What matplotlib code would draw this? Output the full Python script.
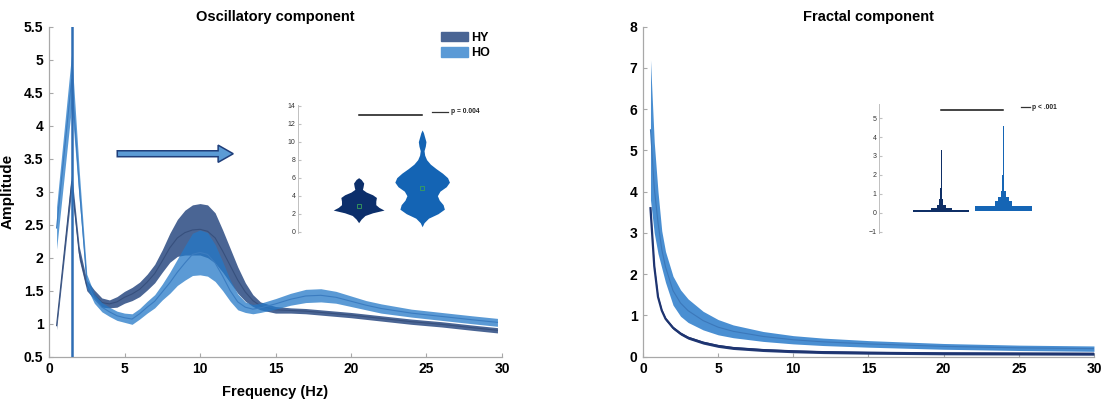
"""
Oscillatory and fractal spectral components, HY vs HO, with violin insets.
"""

import matplotlib.pyplot as plt
from matplotlib.patches import FancyArrow, Patch
import numpy as np

plt.rcParams['font.family'] = ['Liberation Sans', 'DejaVu Sans']

# oscillatory component (mean and half band width)
FREQ_OSC_HY = [0.5, 1.5, 2.0, 2.5, 3.0, 3.5, 4.0, 4.5, 5.0, 5.5, 6.0, 6.5, 7.0, 7.5,
               8.0, 8.5, 9.0, 9.5, 10.0, 10.5, 11.0, 11.5, 12.0, 12.5, 13.0, 13.5,
               14.0, 15.0, 16.0, 17.0, 18.0, 19.0, 20.0, 22.0, 24.0, 26.0, 28.0, 29.7]
HY_OSC = [0.97, 3.15, 2.07, 1.58, 1.44, 1.32, 1.30, 1.33, 1.40, 1.45, 1.52, 1.63, 1.76, 1.95,
          2.15, 2.30, 2.38, 2.42, 2.43, 2.40, 2.30, 2.10, 1.88, 1.66, 1.48, 1.35,
          1.27, 1.21, 1.20, 1.19, 1.17, 1.15, 1.13, 1.08, 1.03, 0.99, 0.94, 0.90]
HY_OSC_ERR = [0.06, 0.13, 0.10, 0.08, 0.07, 0.07, 0.06, 0.08, 0.09, 0.10, 0.11, 0.12, 0.14, 0.17,
              0.22, 0.28, 0.34, 0.38, 0.39, 0.40, 0.38, 0.32, 0.26, 0.20, 0.14, 0.09,
              0.06, 0.05, 0.04, 0.04, 0.04, 0.04, 0.04, 0.04, 0.04, 0.04, 0.04, 0.04]

FREQ_OSC_HO = [0.5, 1.5, 2.0, 2.5, 3.0, 3.5, 4.0, 4.5, 5.0, 5.5, 6.0, 6.5, 7.0, 7.5,
               8.0, 8.5, 9.0, 9.5, 10.0, 10.5, 11.0, 11.5, 12.0, 12.5, 13.0, 13.5,
               14.0, 15.0, 16.0, 17.0, 18.0, 19.0, 20.0, 21.0, 22.0, 24.0, 26.0, 28.0, 29.7]
HO_OSC = [2.45, 4.70, 3.10, 1.65, 1.38, 1.25, 1.18, 1.12, 1.09, 1.07, 1.15, 1.25, 1.34, 1.48,
          1.62, 1.78, 1.92, 2.05, 2.08, 2.05, 1.92, 1.72, 1.50, 1.33, 1.25, 1.22,
          1.24, 1.30, 1.37, 1.42, 1.43, 1.40, 1.34, 1.28, 1.23, 1.16, 1.11, 1.06, 1.02]
HO_OSC_ERR = [0.32, 0.40, 0.22, 0.10, 0.07, 0.07, 0.07, 0.07, 0.07, 0.08, 0.08, 0.09, 0.10, 0.12,
              0.16, 0.20, 0.26, 0.32, 0.34, 0.33, 0.28, 0.22, 0.16, 0.12, 0.08, 0.07,
              0.07, 0.08, 0.09, 0.10, 0.10, 0.09, 0.08, 0.07, 0.07, 0.06, 0.06, 0.06, 0.06]

PEAK_FREQ = 1.55

# fractal component
FREQ_FRAC = [0.5, 0.75, 1.0, 1.25, 1.5, 2.0, 2.5, 3.0, 4.0, 5.0, 6.0, 8.0, 10.0, 12.0,
             15.0, 20.0, 25.0, 30.0]
HY_FRAC = [3.60, 2.20, 1.45, 1.12, 0.92, 0.70, 0.56, 0.46, 0.34, 0.26, 0.21, 0.16, 0.13, 0.11,
           0.095, 0.08, 0.075, 0.07]
HO_FRAC_UP = [7.20, 5.20, 4.00, 3.05, 2.55, 1.95, 1.62, 1.40, 1.10, 0.90, 0.77, 0.61, 0.51, 0.45,
              0.39, 0.32, 0.28, 0.26]
HO_FRAC_LO = [3.80, 3.00, 2.50, 2.15, 1.80, 1.25, 0.98, 0.83, 0.65, 0.53, 0.46, 0.37, 0.31, 0.27,
              0.23, 0.18, 0.15, 0.13]

# inset 1: violin outlines (level, half width)
VIO_HY_Y = [1.0, 1.4, 1.8, 2.1, 2.4, 2.7, 3.0, 3.4, 3.8, 4.1, 4.4, 4.7, 5.0, 5.4, 5.8, 6.0]
VIO_HY_W = [0.0, 0.04, 0.10, 0.22, 0.40, 0.32, 0.27, 0.27, 0.28, 0.22, 0.12, 0.06, 0.07, 0.08, 0.04, 0.0]
VIO_HO_Y = [0.55, 1.0, 1.5, 2.0, 2.5, 3.0, 3.5, 4.0, 4.5, 5.0, 5.5, 6.0, 6.5, 7.0, 7.5, 8.0,
            8.5, 9.0, 9.5, 10.0, 10.5, 11.0, 11.3]
VIO_HO_W = [0.0, 0.03, 0.10, 0.25, 0.35, 0.33, 0.27, 0.24, 0.28, 0.38, 0.43, 0.40, 0.32, 0.22,
            0.13, 0.07, 0.04, 0.03, 0.05, 0.06, 0.04, 0.02, 0.0]
VIO_MEDIANS = [2.8, 4.8]

# inset 2: stepped violins (bin edges, half width)
STEP_HY_Y = [0.03, 0.12, 0.23, 0.40, 0.70, 1.30, 3.30]
STEP_HY_W = [0.45, 0.17, 0.075, 0.03, 0.015, 0.005, 0.005]
STEP_HO_Y = [0.08, 0.35, 0.62, 0.85, 1.15, 2.00, 4.60]
STEP_HO_W = [0.46, 0.14, 0.085, 0.04, 0.015, 0.006, 0.006]

HY_COLOR = '#4a6594'
HO_COLOR = '#2479c7'
SPINE = '#a8a8a8'


def style_axes(ax, size=10):
    for side in ('top', 'right'):
        ax.spines[side].set_visible(False)
    for side in ('left', 'bottom'):
        ax.spines[side].set_color(SPINE)
        ax.spines[side].set_linewidth(0.9)
    ax.tick_params(direction='in', length=3, color=SPINE, labelsize=size, pad=4)
    for lab in ax.get_xticklabels() + ax.get_yticklabels():
        lab.set_fontweight('bold')


def style_inset(ax):
    ax.patch.set_visible(False)
    for side in ('top', 'right', 'bottom'):
        ax.spines[side].set_visible(False)
    ax.spines['left'].set_color('#c0c0c0')
    ax.spines['left'].set_linewidth(0.7)
    ax.set_xticks([])
    ax.tick_params(axis='y', direction='in', length=2, color='#c0c0c0', labelsize=5,
                   labelcolor='#333333', pad=2)


fig = plt.figure(figsize=(11.04, 4.05), dpi=100)

# ---- oscillatory component ----
ax1 = fig.add_axes([0.0444, 0.1193, 0.4103, 0.8148])
f = np.array(FREQ_OSC_HY)
m = np.array(HY_OSC)
e = np.array(HY_OSC_ERR)
ax1.fill_between(f, m - e, m + e, color=HY_COLOR, lw=0, zorder=2)
ax1.plot(f, m, color='#37507d', lw=0.8, zorder=3)

f = np.array(FREQ_OSC_HO)
m = np.array(HO_OSC)
e = np.array(HO_OSC_ERR)
ax1.fill_between(f, m - e, m + e, color=HO_COLOR, alpha=0.75, lw=0, zorder=4)
ax1.plot(f, m, color='#3b7cc0', lw=0.8, zorder=5)

ax1.axvline(PEAK_FREQ, color='#2e6db4', lw=1.8, zorder=6)

ax1.add_patch(FancyArrow(4.52, 3.575, 7.68, 0, width=0.09, head_width=0.26,
                         head_length=1.0, length_includes_head=True,
                         fc='#5b9bd5', ec='#1f3e7a', lw=1.1, zorder=7))

ax1.set_xlim(0, 30)
ax1.set_ylim(0.5, 5.5)
ax1.set_xticks(range(0, 31, 5))
ax1.set_yticks(np.arange(0.5, 5.51, 0.5))
ax1.set_yticklabels(['0.5', '1', '1.5', '2', '2.5', '3', '3.5', '4', '4.5', '5', '5.5'])
style_axes(ax1)
ax1.set_title('Oscillatory component', fontsize=10.5, fontweight='bold', pad=4)
ax1.set_xlabel('Frequency (Hz)', fontsize=10.5, fontweight='bold', labelpad=6)
ax1.set_ylabel('Amplitude', fontsize=11, fontweight='bold', labelpad=7)

handles = [Patch(color=HY_COLOR, label='HY'), Patch(color='#5a9ad6', label='HO')]
ax1.legend(handles=handles, loc='upper left', bbox_to_anchor=(0.865, 0.985),
           frameon=False, borderpad=0, borderaxespad=0, handlelength=2.2,
           handleheight=0.75, handletextpad=0.2, labelspacing=0.3,
           prop={'weight': 'bold', 'size': 9})

# inset: violins of oscillatory power
ins1 = fig.add_axes([0.2702, 0.4257, 0.1812, 0.3156])
for pos, ys, ws, col in ((1, VIO_HY_Y, VIO_HY_W, '#0c2f6b'), (2, VIO_HO_Y, VIO_HO_W, '#1464b4')):
    ys = np.array(ys)
    ws = np.array(ws)
    ins1.fill_betweenx(ys, pos - ws, pos + ws, color=col, lw=0)
ins1.plot([1, 2], VIO_MEDIANS, ls='none', marker='s', ms=2.5, mfc='none', mec='#3aa05a', mew=0.6)
ins1.plot([1, 2], [13.0, 13.0], color='#111111', lw=1.1)
ins1.plot([2.16, 2.40], [13.3, 13.3], color='#333333', lw=0.9)
ins1.text(2.45, 13.3, 'p = 0.004', fontsize=4.8, fontweight='bold', va='center', color='#222222')
ins1.set_xlim(0.05, 3.2)
ins1.set_ylim(-0.1, 14.1)
ins1.set_yticks(range(0, 15, 2))
style_inset(ins1)

# ---- fractal component ----
ax2 = fig.add_axes([0.5824, 0.1193, 0.4085, 0.8148])
f = np.array(FREQ_FRAC)
up = np.array(HO_FRAC_UP)
lo = np.array(HO_FRAC_LO)
ax2.fill_between(f, lo, up, color='#4a8fd2', lw=0, zorder=2)
ax2.plot(f, (up + lo) / 2, color='#3c78ba', lw=0.8, zorder=3)
hy = np.array(HY_FRAC)
ax2.fill_between(f, hy - 0.035, hy + 0.035, color='#263f7a', lw=0, zorder=4)
ax2.plot(f, hy, color='#1e3470', lw=1.6, zorder=5)

ax2.set_xlim(0, 30)
ax2.set_ylim(0, 8)
ax2.set_xticks(range(0, 31, 5))
ax2.set_yticks(range(0, 9))
style_axes(ax2)
ax2.set_title('Fractal component', fontsize=10.5, fontweight='bold', pad=4)

# inset: stepped violins of fractal exponent
ins2 = fig.add_axes([0.7965, 0.4254, 0.1797, 0.3173])
for pos, ys, ws, col in ((1, STEP_HY_Y, STEP_HY_W, '#0f2f66'), (2, STEP_HO_Y, STEP_HO_W, '#1565b5')):
    ys = np.array(ys)
    ws = np.array(ws)
    ins2.fill_betweenx(ys, pos - ws, pos + ws, step='post', color=col, lw=0)
ins2.plot([1, 2], [5.42, 5.42], color='#111111', lw=1.1)
ins2.plot([2.28, 2.43], [5.57, 5.57], color='#333333', lw=0.9)
ins2.text(2.47, 5.57, 'p < .001', fontsize=4.8, fontweight='bold', va='center', color='#222222')
ins2.set_xlim(0, 3.2)
ins2.set_ylim(-1.06, 5.74)
ins2.set_yticks(range(-1, 6))
style_inset(ins2)

fig.savefig('out.png', dpi=100)
